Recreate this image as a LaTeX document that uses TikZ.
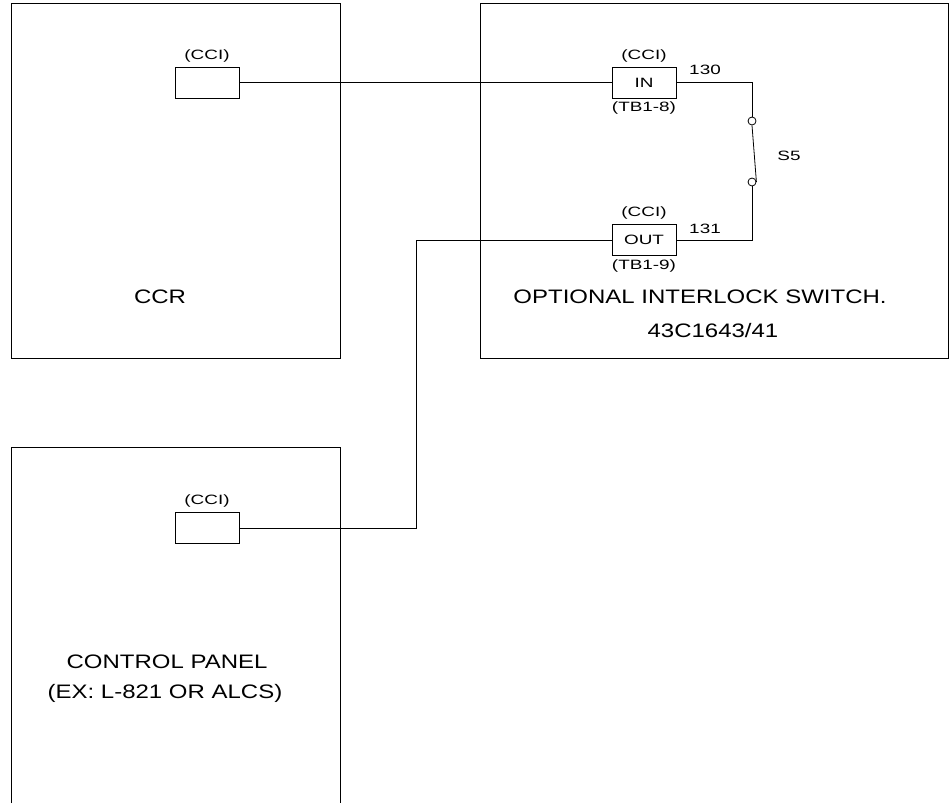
\documentclass[tikz,border=0pt]{standalone}
\usepackage{fontspec}
\setmainfont{Liberation Sans}
\usetikzlibrary{positioning}

\tikzset{
    term/.style={draw, line width=0.8pt, minimum width=64pt, minimum height=31pt, inner sep=0pt},
    tag/.style={inner sep=1pt, xscale=1.4, font=\fontsize{13.5}{14}\selectfont},
    title/.style={inner sep=0pt, xscale=1.23, font=\fontsize{19.5}{20}\selectfont},
    contact/.style={circle, draw, line width=0.8pt, inner sep=0pt, minimum size=8pt},
}

\begin{document}
\begin{tikzpicture}[x=1pt, y=-1pt, line width=0.8pt]
    \useasboundingbox (0,0) rectangle (949,803);

    % Draw enclosures
    \draw (11,3) rectangle (340,358);
    \draw (480,3) rectangle (948,358);
    \draw (11,803) -- (11,447) -- (340,447) -- (340,803);

    % Terminals
    \node[term] (ccr) at (207,82.5) {};
    \node[term] (in) at (644,82.5) {};
    \node[term] (out) at (644,240) {};
    \node[term] (cp) at (207,528) {};
    \node[tag] (inname) at (in) {IN};
    \node[tag] (outname) at (out) {OUT};

    \node[tag, above=3pt of ccr] (ccrtag) {(CCI)};
    \node[tag, above=3pt of in] (intag) {(CCI)};
    \node[tag, below=2pt of in] (inpin) {(TB1-8)};
    \node[tag, above=3pt of out] (outtag) {(CCI)};
    \node[tag, below=2pt of out] (outpin) {(TB1-9)};
    \node[tag, above=3pt of cp] (cptag) {(CCI)};

    % Switch S5
    \node[contact] (sw1) at (752,121) {};
    \node[contact] (sw2) at (752,182) {};
    \draw (in.east) -| (sw1.north);
    \draw (sw1.south) -- (sw2.east);
    \draw (sw2.south) |- (out.east);

    \node[tag] (w130) at (705,70) {130};
    \node[tag] (w131) at (705,229) {131};
    \node[tag] (s5) at (789,156) {S5};

    % Wiring
    \coordinate (bend) at (416,240);
    \draw (ccr.east) -- (in.west);
    \draw (out.west) -- (bend) |- (cp.east);

    % Box titles
    \node[title] (ccrname) at (160,297) {CCR};
    \node[title] (optname) at (700,297) {OPTIONAL INTERLOCK SWITCH.};
    \node[title] (optnum) at (713,331) {43C1643/41};
    \node[title] (cpname) at (167,662) {CONTROL PANEL};
    \node[title] (cpex) at (165,693) {(EX: L-821 OR ALCS)};
\end{tikzpicture}
\end{document}
